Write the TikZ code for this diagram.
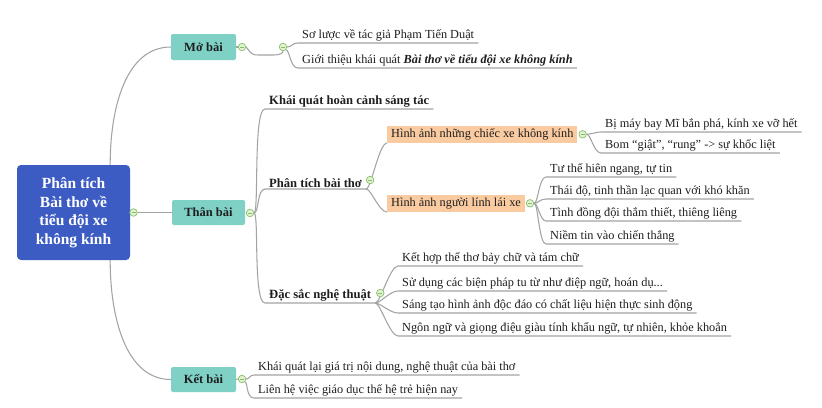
\documentclass[tikz,border=0pt]{standalone}
\usepackage{fontspec}
\setmainfont{Liberation Serif}
\usetikzlibrary{backgrounds}
\definecolor{mainblue}{HTML}{3D5CC3}
\definecolor{secteal}{HTML}{7FD1C6}
\definecolor{subor}{HTML}{FACBA0}
\definecolor{linegray}{HTML}{A3A3A3}
\definecolor{mkgreen}{HTML}{86BF63}
\definecolor{mkfill}{HTML}{E2F2D6}
\definecolor{txt}{HTML}{1E1E1E}
\begin{document}
\begin{tikzpicture}[x=1pt,y=-1pt,
  conn/.style={draw=linegray, line width=1.05pt},
  fork/.style 2 args={to path={.. controls ([xshift=#1]\tikztostart) and ([xshift=-#2]\tikztotarget) .. (\tikztotarget)}},
  mk/.style={circle, draw=mkgreen, fill=mkfill, line width=0.7pt, minimum size=7.5pt, inner sep=0pt,
    path picture={\draw[mkgreen, line width=0.7pt] ([xshift=-2pt]path picture bounding box.center) -- ([xshift=2pt]path picture bounding box.center);}},
  mainbox/.style={rectangle, rounded corners=4pt, fill=mainblue, text=white, font=\bfseries\fontsize{15.5}{18.5}\selectfont, align=center, minimum width=113pt, minimum height=95pt, inner sep=0pt},
  secbox/.style={rectangle, rounded corners=2pt, fill=secteal, text=txt, font=\bfseries\fontsize{12.5}{15}\selectfont, minimum height=25pt, inner sep=0pt},
  leaf/.style={anchor=south west, inner xsep=4pt, inner ysep=1.5pt, font=\fontsize{12.3}{14}\selectfont, text=txt},
  head/.style={leaf, font=\bfseries\fontsize{12.6}{15}\selectfont},
  obox/.style={anchor=south west, fill=subor, inner xsep=4pt, inner ysep=0pt, minimum height=17pt, font=\fontsize{12.3}{14}\selectfont, text=txt}
]
\useasboundingbox (0,0) rectangle (822,407);

\node[mainbox] (c) at (73.5,212.5) {Phân tích\\Bài thơ về\\tiểu đội xe\\không kính};
\node[mk] (mc) at (133.5,212.5) {};
\node[secbox, minimum width=73pt] (than) at (208.5,212.5) {Thân bài};
\node[mk] (mthan) at (250,213) {};
\node[secbox, minimum width=65pt, minimum height=26pt] (mo) at (203.5,47) {Mở bài};
\node[mk] (mmo) at (242,47) {};
\node[mk] (mmo2) at (283,47) {};
\node[secbox, minimum width=65pt] (ket) at (203.5,379.5) {Kết bài};
\node[mk] (mket) at (242,379) {};

\node[leaf] (s1) at (298,43) {Sơ lược về tác giả Phạm Tiến Duật};
\node[leaf] (s2) at (298,68) {Giới thiệu khái quát \textbf{\textit{Bài thơ về tiểu đội xe không kính}}};

\node[head] (kq) at (265,109) {Khái quát hoàn cảnh sáng tác};
\node[head] (pt) at (265,189) {Phân tích bài thơ};
\node[mk] (mpt) at ([xshift=4pt,yshift=9pt]pt.south east) {};
\node[head] (ds) at (265,303) {Đặc sắc nghệ thuật};
\node[mk] (mds) at ([xshift=5pt,yshift=10pt]ds.south east) {};

\node[obox] (hx) at (387,143) {Hình ảnh những chiếc xe không kính};
\node[mk] (mhx) at ([xshift=5pt]hx.east) {};
\node[leaf] (b1) at (601,132) {Bị máy bay Mĩ bắn phá, kính xe vỡ hết};
\node[leaf] (b2) at (601,153) {Bom “giật”, “rung” -> sự khốc liệt};

\node[obox] (hl) at (387,212) {Hình ảnh người lính lái xe};
\node[mk] (mhl) at ([xshift=5pt]hl.east) {};
\node[leaf] (t1) at (546,177) {Tư thế hiên ngang, tự tin};
\node[leaf] (t2) at (546,199) {Thái độ, tinh thần lạc quan với khó khăn};
\node[leaf] (t3) at (546,221) {Tình đồng đội thắm thiết, thiêng liêng};
\node[leaf] (t4) at (546,244) {Niềm tin vào chiến thắng};

\node[leaf] (d1) at (398,266) {Kết hợp thể thơ bảy chữ và tám chữ};
\node[leaf] (d2) at (398,291) {Sử dụng các biện pháp tu từ như điệp ngữ, hoán dụ...};
\node[leaf] (d3) at (398,313) {Sáng tạo hình ảnh độc đáo có chất liệu hiện thực sinh động};
\node[leaf] (d4) at (398,336) {Ngôn ngữ và giọng điệu giàu tính khẩu ngữ, tự nhiên, khỏe khoắn};

\node[leaf] (k1) at (254,375) {Khái quát lại giá trị nội dung, nghệ thuật của bài thơ};
\node[leaf] (k2) at (254,398) {Liên hệ việc giáo dục thế hệ trẻ hiện nay};

\begin{scope}[on background layer]
\fill[white] (0,0) rectangle (822,407);
\draw[conn] (c.east) -- (than.west);
\draw[conn] ([xshift=-20pt]c.north east) .. controls (110,110) and (125,47) .. (mo.west);
\draw[conn] ([xshift=-20pt]c.south east) .. controls (110,315) and (125,379.5) .. (ket.west);
% Mo bai
\draw[conn] (mo.east) -- (mmo.west);
\draw[conn] (mmo.east) .. controls (250,51) and (250,55) .. (258,55) -- (274,55) .. controls (280,55) and (283,53) .. (mmo2.south);
\draw[conn] (mmo2.east) to[fork={5pt}{6pt}] (s1.south west) -- (s1.south east);
\draw[conn] (mmo2.south east) to[fork={4pt}{8pt}] (s2.south west) -- (s2.south east);
% Than bai
\draw[conn] (mthan.east) to[fork={5pt}{12pt}] (kq.south west) -- (kq.south east);
\draw[conn] (mthan.east) to[fork={5pt}{8pt}] (pt.south west) -- (pt.south east);
\draw[conn] (mthan.east) to[fork={5pt}{12pt}] (ds.south west) -- (ds.south east);
\draw[conn] (pt.south east) to[fork={5pt}{8pt}] (hx.south west);
\draw[conn] (pt.south east) to[fork={5pt}{8pt}] (hl.south west);
\draw[conn] (mhx.east) to[fork={4pt}{5pt}] (b1.south west) -- (b1.south east);
\draw[conn] (mhx.east) to[fork={4pt}{7pt}] (b2.south west) -- (b2.south east);
\draw[conn] (mhl.east) to[fork={4pt}{7pt}] (t1.south west) -- (t1.south east);
\draw[conn] (mhl.east) to[fork={4pt}{6pt}] (t2.south west) -- (t2.south east);
\draw[conn] (mhl.east) to[fork={4pt}{6pt}] (t3.south west) -- (t3.south east);
\draw[conn] (mhl.east) to[fork={4pt}{7pt}] (t4.south west) -- (t4.south east);
\draw[conn] (ds.south east) to[fork={5pt}{8pt}] (d1.south west) -- (d1.south east);
\draw[conn] (ds.south east) to[fork={5pt}{8pt}] (d2.south west) -- (d2.south east);
\draw[conn] (ds.south east) to[fork={5pt}{8pt}] (d3.south west) -- (d3.south east);
\draw[conn] (ds.south east) to[fork={5pt}{8pt}] (d4.south west) -- (d4.south east);
% Ket bai
\draw[conn] (ket.east) -- (mket.west);
\draw[conn] (mket.east) to[fork={3pt}{4pt}] (k1.south west) -- (k1.south east);
\draw[conn] (mket.south east) to[fork={3pt}{8pt}] (k2.south west) -- (k2.south east);
\end{scope}
\end{tikzpicture}
\end{document}
